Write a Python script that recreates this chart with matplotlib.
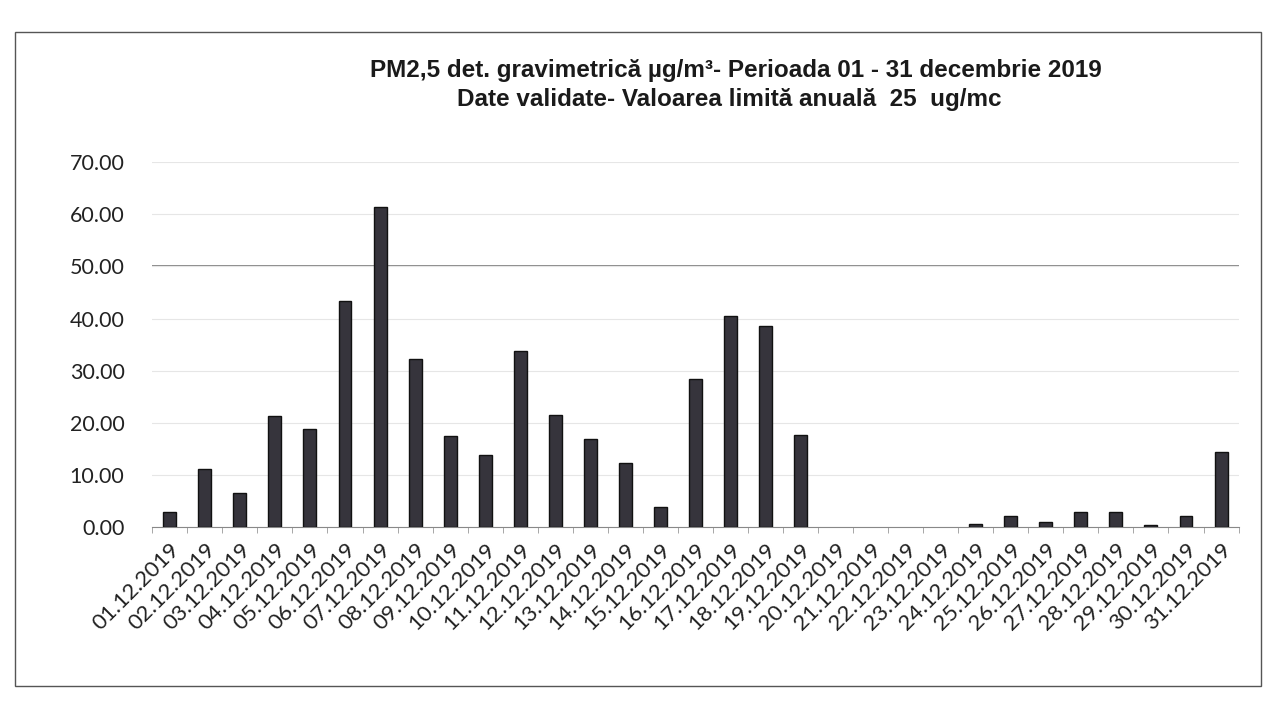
import numpy as np
import matplotlib
matplotlib.use("Agg")
import matplotlib.pyplot as plt
from matplotlib.patches import Rectangle

# data (days 20-23 have no value)
days = ["%02d.12.2019" % d for d in range(1, 32)]
pm25 = [3.0, 11.1, 6.5, 21.3, 18.9, 43.3, 61.4, 32.2, 17.5, 13.8,
        33.7, 21.5, 16.9, 12.3, 3.9, 28.5, 40.5, 38.5, 17.7, np.nan,
        np.nan, np.nan, np.nan, 0.7, 2.2, 1.1, 3.0, 3.0, 0.5, 2.2, 14.5]
y_ticks = [0, 10, 20, 30, 40, 50, 60, 70]
limit_line = 50

title1 = "PM2,5 det. gravimetrică µg/m³- Perioada 01 - 31 decembrie 2019"
title2 = "Date validate- Valoarea limită anuală  25  ug/mc"

fig = plt.figure(figsize=(12.69, 7.04), dpi=100)
fig.patch.set_facecolor("white")

# chart area border (Excel style)
fig.patches.append(Rectangle((0.012, 0.025), 0.982, 0.93, transform=fig.transFigure,
                             fill=False, edgecolor="#555555", linewidth=1.0))

ax = fig.add_axes([0.12, 0.251, 0.856, 0.519])
x = np.arange(len(days))
ax.bar(x, pm25, width=0.37, color="#36343c", edgecolor="#111111", linewidth=1.0, zorder=3)

ax.set_xlim(-0.5, len(days) - 0.5)
ax.set_ylim(0, 70)
ax.set_yticks(y_ticks)
ax.set_yticklabels(["%.2f" % v for v in y_ticks], family="Lato", fontsize=15.5, color="#222222")
ax.grid(axis="y", color="#e6e6e6", linewidth=0.8, zorder=0)
ax.axhline(limit_line, color="#777777", linewidth=1.2, zorder=1)

ax.set_xticks(x)
ax.set_xticklabels(days, rotation=45, ha="right", rotation_mode="anchor",
                   family="Lato", fontsize=16, color="#222222")
ax.tick_params(axis="x", length=0, pad=9)
ax.tick_params(axis="y", length=0, pad=20)
ax.set_xticks(np.arange(-0.5, len(days), 1), minor=True)
ax.tick_params(axis="x", which="minor", length=4, color="#999999")

for s in ["top", "right", "left"]:
    ax.spines[s].set_visible(False)
ax.spines["bottom"].set_color("#888888")

fig.text(0.58, 0.9, title1, ha="center", va="center", fontsize=17.5,
         fontweight="bold", family="Liberation Sans", color="#1a1a1a")
fig.text(0.575, 0.858, title2, ha="center", va="center", fontsize=17.5,
         fontweight="bold", family="Liberation Sans", color="#1a1a1a")

fig.savefig("out.png", dpi=100)
